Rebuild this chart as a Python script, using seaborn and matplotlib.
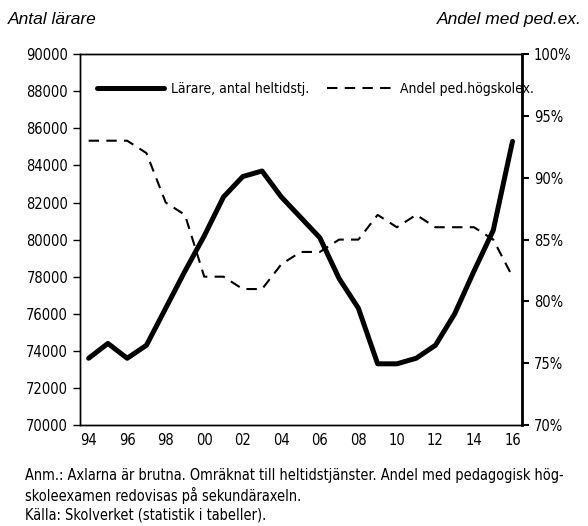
import matplotlib
matplotlib.use("Agg")
import matplotlib.pyplot as plt
import seaborn as sns
import pandas as pd
from matplotlib.ticker import MultipleLocator, FuncFormatter

# DATA
years = list(range(1994, 2017))
teachers = [73600, 74400, 73600, 74300, 76300, 78300, 80200, 82300, 83400, 83700,
            82300, 81200, 80100, 77900, 76300, 73300, 73300, 73600, 74300, 76000,
            78300, 80500, 85300]
share_ped = [93, 93, 93, 92, 88, 87, 82, 82, 81, 81,
             83, 84, 84, 85, 85, 87, 86, 87, 86, 86,
             86, 85, 82]
year_labels = ["94", "96", "98", "00", "02", "04", "06", "08", "10", "12", "14", "16"]

df = pd.DataFrame({"year": years, "teachers": teachers, "share": share_ped})

# STYLE SETTINGS
sns.set_style("white")
plt.rcParams["font.family"] = ["DejaVu Sans"]
plt.rcParams["font.stretch"] = "condensed"
plt.rcParams["text.color"] = "black"
plt.rcParams["xtick.color"] = "black"
plt.rcParams["ytick.color"] = "black"

fig = plt.figure(figsize=(5.88, 5.26), dpi=100)
ax = fig.add_axes([0.136, 0.192, 0.752, 0.705])
ax2 = ax.twinx()

sns.lineplot(data=df, x="year", y="teachers", ax=ax, color="black",
             linewidth=3.6, label="Lärare, antal heltidstj.", legend=False)
sns.lineplot(data=df, x="year", y="share", ax=ax2, color="black",
             linewidth=1.5, linestyle=(0, (5, 3.5)), label="Andel ped.högskolex.",
             legend=False)

ax.set_xlim(1993.55, 2016.5)
ax.set_ylim(70000, 90000)
ax2.set_ylim(70, 100)

ax.set_xticks(years)
ax.set_xticklabels([year_labels[(y - 1994) // 2] if (y - 1994) % 2 == 0 else "" for y in years])
ax.yaxis.set_major_locator(MultipleLocator(2000))
ax2.yaxis.set_major_locator(MultipleLocator(5))
ax2.yaxis.set_major_formatter(FuncFormatter(lambda v, p: f"{v:.0f}%"))

ax.tick_params(axis="x", direction="inout", length=10, width=1, labelsize=10.5, pad=1)
ax.tick_params(axis="y", direction="out", length=5, width=1, labelsize=10.5, left=True)
ax2.tick_params(axis="y", direction="out", length=5, width=1.5, labelsize=10.5, right=True)

ax.set_xlabel("")
ax.set_ylabel("")
ax2.set_ylabel("")

for a in (ax, ax2):
    for s in a.spines.values():
        s.set_color("black")
        s.set_linewidth(1.0)
ax2.spines["right"].set_linewidth(2.0)

h1 = ax.get_lines()[0]
h2 = ax2.get_lines()[0]
ax.legend(handles=[h1, h2], loc="upper left", bbox_to_anchor=(0.01, 0.96),
          ncol=2, frameon=False, fontsize=10, handlelength=4.8,
          columnspacing=1.3, handletextpad=0.5)

fig.text(0.014, 0.963, "Antal lärare", fontsize=12.5, style="italic", stretch="normal",
         family=["Liberation Sans", "DejaVu Sans"], ha="left", va="center")
fig.text(0.99, 0.963, "Andel med ped.ex.", fontsize=12.5, style="italic", stretch="normal",
         family=["Liberation Sans", "DejaVu Sans"], ha="right", va="center")

notes = ("Anm.: Axlarna är brutna. Omräknat till heltidstjänster. Andel med pedagogisk hög-\n"
         "skoleexamen redovisas på sekundäraxeln.\n"
         "Källa: Skolverket (statistik i tabeller).")
fig.text(0.042, 0.11, notes, fontsize=10.45, ha="left", va="top", linespacing=1.3)

plt.savefig("out.png", dpi=100)
plt.close()
